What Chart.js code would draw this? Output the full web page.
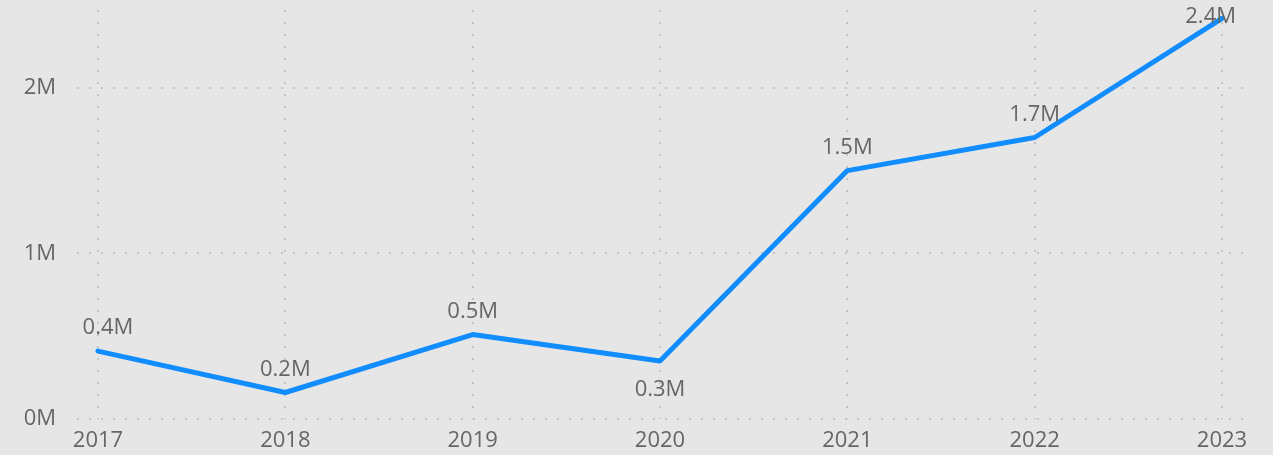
<!DOCTYPE html>
<html>
<head>
<meta charset="utf-8">
<script src="https://cdn.jsdelivr.net/npm/chart.js@4/dist/chart.umd.min.js"></script>
<style>
  html, body { margin: 0; padding: 0; background: #e6e6e6; }
  #wrap { width: 1273px; height: 455px; }
</style>
</head>
<body>
<div id="wrap"><canvas id="myChart"></canvas></div>
<script>
// years on the x axis
const years = [2017, 2018, 2019, 2020, 2021, 2022, 2023];
// values in millions
const values = [0.41, 0.16, 0.51, 0.35, 1.50, 1.70, 2.42];
// y axis ticks (millions)
const yTicks = [0, 1, 2];

const textColor = "#666666";
const gridColor = "#c4c4c4";
const fontFamily = "'Open Sans', 'Noto Sans', sans-serif";
const fontSize = 22;

// draws "0.4M" style labels next to each point
const pointLabels = {
    id: "pointLabels",
    afterDatasetsDraw(chart, args, opts) {
        const ctx = chart.ctx;
        const meta = chart.getDatasetMeta(0);
        ctx.save();
        ctx.font = fontSize + "px " + fontFamily;
        ctx.fillStyle = textColor;
        ctx.textAlign = "center";
        ctx.textBaseline = "middle";
        meta.data.forEach((pt, i) => {
            const text = values[i].toFixed(1) + "M";
            const w = ctx.measureText(text).width;
            let x = pt.x + (opts.shift[i] || 0);
            let y = opts.below.includes(i) ? pt.y + 29 : pt.y - 23;
            if (x + w / 2 > chart.width - 37) x = chart.width - 37 - w / 2;
            if (y < 17) y = 17;
            ctx.fillText(text, x, y);
        });
        ctx.restore();
    }
};

const gridOpts = { color: gridColor, lineWidth: 2, drawTicks: false, tickLength: 0 };
const borderOpts = { display: false, dash: [2, 10] };

new Chart("myChart", {
    type: "line",
    data: {
        datasets: [{
            data: years.map((y, i) => ({ x: y, y: values[i] })),
            borderColor: "#118dff",
            borderWidth: 5,
            borderCapStyle: "round",
            borderJoinStyle: "round",
            pointRadius: 0,
            tension: 0,
            fill: false
        }]
    },
    plugins: [pointLabels],
    options: {
        responsive: true,
        maintainAspectRatio: false,
        animation: false,
        layout: { padding: { top: 10, right: 30, bottom: 0, left: 0 } },
        plugins: {
            legend: { display: false },
            tooltip: { enabled: false },
            pointLabels: { below: [3], shift: { 0: 10 } }
        },
        scales: {
            x: {
                type: "linear",
                min: 2016.888,
                max: 2023.112,
                afterBuildTicks: s => { s.ticks = years.map(v => ({ value: v })); },
                afterFit: s => { s.height = 36; s.paddingLeft = 0; s.paddingRight = 0; },
                border: borderOpts,
                grid: gridOpts,
                ticks: {
                    padding: 9,
                    color: textColor,
                    font: { family: fontFamily, size: fontSize },
                    callback: v => String(v),
                    maxRotation: 0,
                    autoSkip: false
                }
            },
            y: {
                min: 0,
                max: 2.47,
                afterBuildTicks: s => { s.ticks = yTicks.map(v => ({ value: v })); },
                afterFit: s => { s.paddingTop = 0; s.paddingBottom = 0; s.width = 77; },
                border: borderOpts,
                grid: gridOpts,
                ticks: {
                    padding: 21,
                    color: textColor,
                    font: { family: fontFamily, size: fontSize },
                    callback: v => v + "M"
                }
            }
        }
    }
});
</script>
</body>
</html>
